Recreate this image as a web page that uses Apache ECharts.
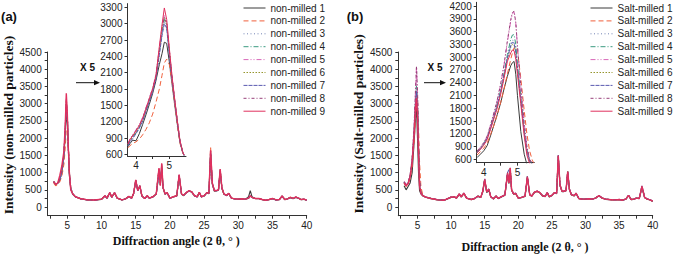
<!DOCTYPE html>
<html><head><meta charset="utf-8">
<script src="https://cdn.jsdelivr.net/npm/echarts@6/dist/echarts.min.js"></script>
<style>html,body{margin:0;padding:0;background:#fff}#c{width:675px;height:254px}</style>
</head><body><div id="c"></div>
<script>
// ---------- data ----------
const NAMES_A = ['non-milled 1','non-milled 2','non-milled 3','non-milled 4','non-milled 5','non-milled 6','non-milled 7','non-milled 8','non-milled 9'];
const NAMES_B = ['Salt-milled 1','Salt-milled 2','Salt-milled 3','Salt-milled 4','Salt-milled 5','Salt-milled 6','Salt-milled 7','Salt-milled 8','Salt-milled 9'];

const X_TICKS = [2.5,5,7.5,10,12.5,15,17.5,20,22.5,25,27.5,30,32.5,35,37.5,40];
const X_LABELS = [5,10,15,20,25,30,35,40];
const Y_TICKS = [0,250,500,750,1000,1250,1500,1750,2000,2250,2500,2750,3000,3250,3500,3750,4000,4250,4500];
const Y_LABELS = [0,500,1000,1500,2000,2500,3000,3500,4000,4500];
const INSET_X_TICKS = [4,4.5,5];
const INSET_X_LABELS = [4,5];
const INSET_A_Y_LABELS = [600,900,1200,1500,1800,2100,2400,2700,3000,3300];
const INSET_B_Y_LABELS = [600,900,1200,1500,1800,2100,2400,2700,3000,3300,3600,3900,4200];

// diffraction angles of the main patterns (both panels)
const MX = [3.0,3.3,3.6,3.9,4.2, 4.5,4.7,4.85,5.0,5.15, 5.3,5.5,5.8,6.2,7, 8,9,10,10.5,10.8,
 11.2,11.5,11.9,12.3,13, 13.5,14,14.4,14.7,15.0, 15.3,15.6,15.9,16.3,16.7, 17.0,17.5,18.0,18.4,18.6,
 18.8,19.0,19.3,19.6,20.0, 20.5,21.0,21.35,21.7,22.0, 22.4,22.8,23.2,23.6,24.0, 24.3,24.6,25.0,25.4,25.7,
 25.95,26.2,26.5,26.8,27.1, 27.35,27.6,27.9,28.3,28.6, 29.0,29.5,30.0,30.5,31.0, 31.5,31.75,32.0,32.5,33.0,
 33.5,34.0,34.5,35.0,35.5, 36.0,36.4,36.8,37.2,37.6, 38.0,38.4,38.8,39.2,39.6, 40.0];

// (a) non-milled, main patterns
const A1 = [730,650,690,780,1000, 1450,2150,2660,2450,1750, 900,520,370,290,235, 205,200,225,320,255,
 410,285,410,255,205, 235,300,255,390,760, 470,600,320,245,320, 255,290,370,1050,640,
 1180,550,370,410,255, 290,320,900,370,330, 410,470,430,320,290, 420,295,320,410,390,
 1500,660,460,470,490, 1050,540,370,330,390, 255,235,225,235,225, 300,480,300,245,245,
 215,195,215,245,205, 215,310,215,235,270, 245,280,255,215,225, 195];
const A2 = [700,620,660,740,900, 1250,1750,2280,2300,1850, 950,540,375,295,238, 208,203,228,325,258,
 415,288,415,258,208, 238,305,258,395,780, 475,610,325,248,325, 258,295,375,1100,630,
 1230,555,375,415,258, 295,325,930,375,335, 415,475,435,325,295, 425,298,325,415,395,
 1730,690,470,475,495, 1080,550,375,335,395, 258,238,228,238,228, 258,325,278,248,248,
 218,198,218,248,208, 218,315,218,238,290, 248,300,258,218,228, 198];
const A3 = [735,655,695,790,1030, 1520,2250,3050,2650,1650, 980,550,378,298,238, 208,203,228,325,258,
 415,288,415,258,208, 238,305,258,395,770, 475,610,325,248,325, 258,295,375,1000,800,
 1100,555,375,415,258, 295,325,920,375,335, 415,475,435,325,295, 425,298,325,415,395,
 1580,680,470,475,495, 1070,550,375,335,395, 258,238,228,238,228, 258,325,278,248,248,
 218,198,218,248,208, 218,315,218,238,278, 248,288,258,218,228, 198];
const A4 = [738,658,698,795,1040, 1530,2280,3080,2680,1680, 990,555,379,299,239, 209,204,229,328,259,
 418,289,418,259,209, 239,308,259,398,775, 478,615,328,249,328, 259,298,378,950,880,
 1050,558,378,418,259, 298,328,925,378,338, 418,478,438,328,298, 428,299,328,418,398,
 1560,690,475,470,498, 1060,555,378,338,398, 259,239,229,239,229, 259,328,279,249,249,
 219,199,219,249,209, 219,318,219,239,279, 249,289,259,219,229, 199];
const A5 = [742,662,702,805,1060, 1560,2350,3150,2720,1700, 1000,558,380,300,240, 210,205,230,330,260,
 420,290,420,260,210, 240,310,260,400,785, 480,620,330,250,330, 260,300,380,1110,630,
 1250,560,380,420,260, 300,330,935,380,340, 420,480,440,330,300, 430,300,330,420,400,
 1620,700,480,480,500, 1090,560,380,340,400, 260,240,230,240,230, 260,330,280,250,250,
 220,200,220,250,210, 220,320,220,240,280, 250,290,260,220,230, 200];
const A6 = [740,660,700,800,1050, 1550,2320,3100,2700,1690, 995,556,380,300,240, 210,205,230,330,260,
 418,290,418,260,210, 240,310,260,400,780, 478,618,330,250,330, 260,300,380,1090,660,
 1220,560,380,420,260, 300,330,930,380,340, 420,480,440,330,300, 430,300,330,420,400,
 1600,700,480,480,500, 1080,560,380,340,400, 260,240,230,240,230, 260,320,280,250,250,
 220,200,220,250,210, 220,320,220,240,285, 250,292,260,220,230, 200];
const A7 = [735,655,695,790,1020, 1500,2230,3000,2620,1640, 975,550,376,297,238, 208,203,228,326,258,
 414,288,414,258,208, 238,306,258,396,770, 474,610,326,248,326, 258,296,376,980,900,
 1100,556,376,414,258, 296,326,920,376,336, 414,474,434,326,296, 424,298,326,414,396,
 1550,680,470,474,494, 1060,552,376,336,396, 258,238,228,238,228, 258,326,278,248,248,
 218,198,218,248,208, 218,316,218,238,278, 248,288,258,218,228, 198];
const A8 = [742,662,702,802,1055, 1555,2340,3120,2710,1695, 998,558,380,300,240, 210,205,230,330,260,
 420,290,420,260,210, 240,310,260,400,785, 480,620,330,250,330, 260,300,380,1120,640,
 1240,560,380,420,260, 300,330,935,380,340, 420,480,440,330,300, 430,300,330,420,400,
 1630,700,480,480,500, 1090,560,380,340,400, 260,240,230,240,230, 260,330,280,250,250,
 220,200,220,250,210, 220,320,220,240,280, 250,290,260,220,230, 200];
const A9 = [740,660,700,920,1200, 1620,2400,3300,2700,1700, 1000,500,380,300,240, 210,205,230,330,260,
 420,290,420,260,210, 240,310,260,400,790, 480,620,330,250,330, 260,300,380,1130,620,
 1270,560,380,420,260, 300,330,940,380,340, 420,480,440,330,300, 430,300,330,420,400,
 1650,700,480,480,500, 1100,560,380,340,400, 260,240,230,240,230, 260,330,280,250,250,
 220,200,220,250,210, 220,320,220,240,280, 250,290,260,220,230, 200];

// (a) inset, x5 around the first reflection
const IXA = [3.76,3.82,3.9,4.0,4.1,4.2,4.3,4.4,4.5,4.6,4.7,4.78,4.85,4.92,5.0,5.08,5.16,5.24,5.32,5.4,5.44];
const AI1 = [740,800,860,850,980,1150,1330,1520,1720,1960,2250,2450,2660,2640,2300,1900,1520,1150,820,640,580];
const AI2 = [720,760,800,830,880,960,1060,1180,1340,1560,1800,2050,2280,2350,2250,1900,1500,1120,800,630,580];
const AI3 = [760,840,900,990,1090,1220,1400,1580,1760,2000,2450,2800,3050,2950,2450,1980,1580,1190,830,640,580];
const AI4 = [770,850,920,1000,1100,1230,1410,1590,1780,2020,2480,2850,3080,2980,2480,2000,1590,1200,840,645,585];
const AI5 = [800,890,960,1050,1150,1280,1460,1640,1820,2080,2550,2950,3150,3050,2520,2030,1610,1210,845,650,585];
const AI6 = [780,860,930,1010,1110,1240,1420,1600,1790,2040,2500,2900,3100,3000,2500,2010,1600,1200,840,645,585];
const AI7 = [760,830,890,980,1080,1210,1390,1570,1750,1990,2430,2780,3000,2920,2430,1970,1570,1180,830,640,580];
const AI8 = [790,880,950,1040,1140,1270,1450,1630,1810,2060,2520,2920,3120,3020,2500,2020,1600,1210,845,650,585];
const AI9 = [790,870,940,1030,1130,1260,1440,1620,1800,2050,2580,2980,3290,3080,2550,2040,1620,1220,850,650,590];

// (b) salt-milled, main patterns
const B1 = [620,500,600,700,1000, 1900,2580,2880,2000,1000, 480,380,320,285,245, 205,195,280,290,255,
 370,290,390,255,215, 245,310,275,430,760, 420,500,295,235,310, 245,290,340,930,680,
 1050,490,370,390,255, 275,310,840,350,315, 420,450,410,320,300, 410,295,330,410,390,
 1400,620,450,450,470, 980,510,350,320,390, 245,225,225,235,225, 255,295,320,255,225,
 215,205,205,215,195, 225,330,215,225,255, 245,560,270,225,205, 165];
const B2 = [690,600,660,840,1180, 1930,2600,3100,3150,2300, 1300,580,340,292,250, 210,200,288,300,260,
 380,300,400,260,220, 250,320,280,450,790, 440,515,300,240,320, 250,300,350,970,720,
 1110,500,380,400,260, 280,320,870,360,320, 430,460,420,330,310, 420,300,340,420,400,
 1470,640,460,460,480, 1020,520,360,330,400, 250,230,230,240,230, 260,300,330,260,230,
 220,210,210,220,200, 230,340,220,230,260, 250,590,280,230,210, 170];
const B3 = [720,630,690,900,1340, 2200,3050,3400,2950,1750, 700,420,335,292,252, 212,202,292,302,262,
 382,302,402,262,222, 252,322,282,452,805, 445,522,302,242,322, 252,302,352,990,720,
 1120,505,382,402,262, 282,322,885,362,322, 432,462,422,332,312, 422,302,342,422,402,
 1490,645,462,462,482, 1035,522,362,332,402, 252,232,232,242,232, 262,302,332,262,232,
 222,212,212,222,202, 232,342,222,232,262, 252,605,282,232,212, 172];
const B4 = [725,635,695,910,1360, 2250,3120,3530,3050,1800, 720,425,336,293,253, 213,203,293,303,263,
 383,303,403,263,223, 253,323,283,453,810, 446,523,303,243,323, 253,303,353,1000,760,
 1100,506,383,403,263, 283,323,890,363,323, 433,463,423,333,313, 423,303,343,423,403,
 1500,648,463,463,483, 1040,523,363,333,403, 253,233,233,243,233, 263,303,333,263,233,
 223,213,213,223,203, 233,343,223,233,263, 253,610,283,233,213, 173];
const B5 = [735,645,705,930,1400, 2350,3350,4060,3300,1950, 780,430,338,295,255, 215,205,295,305,265,
 385,305,405,265,225, 255,325,285,455,820, 448,525,305,245,325, 255,305,355,1010,710,
 1150,508,385,405,265, 285,325,895,365,325, 435,465,425,335,315, 425,305,345,425,405,
 1510,650,465,465,485, 1045,525,365,335,405, 255,235,235,245,235, 265,305,335,265,235,
 225,215,215,225,205, 235,345,225,235,265, 255,615,285,235,215, 175];
const B6 = [715,628,688,890,1320, 2160,2980,3300,2850,1700, 680,415,334,291,251, 211,201,291,301,261,
 381,301,401,261,221, 251,321,281,451,800, 442,521,301,241,321, 251,301,351,985,705,
 1135,502,381,401,261, 281,321,882,361,321, 431,461,421,331,311, 421,301,341,421,401,
 1485,642,461,461,481, 1032,521,361,331,401, 251,231,231,241,231, 261,301,331,261,231,
 221,211,211,221,201, 231,341,221,231,261, 251,602,281,231,211, 171];
const B7 = [718,630,690,895,1330, 2180,3000,3350,2900,1720, 690,418,334,291,251, 211,201,291,301,261,
 381,301,401,261,221, 251,321,281,451,800, 442,521,301,241,321, 251,301,351,1000,1080,
 1050,502,381,401,261, 281,321,882,361,321, 431,461,421,331,311, 421,301,341,421,401,
 1470,642,461,461,481, 1025,521,361,331,401, 251,231,231,241,231, 261,301,331,261,231,
 221,211,211,221,201, 231,341,221,231,261, 251,600,281,231,211, 171];
const B8 = [738,648,708,935,1410, 2370,3380,4080,3320,1960, 790,432,338,295,255, 215,205,295,305,265,
 385,305,405,265,225, 255,325,285,455,820, 448,525,305,245,325, 255,305,355,1010,715,
 1150,508,385,405,265, 285,325,895,365,325, 435,465,425,335,315, 425,305,345,425,405,
 1515,650,465,465,485, 1045,525,365,335,405, 255,235,235,245,235, 265,305,335,265,235,
 225,215,215,225,205, 235,345,225,235,265, 255,615,285,235,215, 175];
const B9 = [700,620,680,880,1300, 2120,2900,3170,2600,1550, 620,400,330,290,250, 210,200,290,300,260,
 380,300,400,260,220, 250,320,280,450,800, 440,520,300,240,320, 250,300,350,980,700,
 1130,500,380,400,260, 280,320,880,360,320, 430,460,420,330,310, 420,300,340,420,400,
 1480,640,460,460,480, 1030,520,360,330,400, 250,230,230,240,230, 260,300,330,260,230,
 220,210,210,220,200, 230,340,220,230,260, 250,600,280,230,210, 170];

// (b) inset
const IXB = [3.8,3.9,4.0,4.1,4.2,4.3,4.4,4.5,4.6,4.7,4.8,4.85,4.9,4.95,5.0,5.1,5.2,5.28,5.36,5.44,5.48];
const BI1 = [640,720,800,920,1150,1400,1650,1920,2250,2550,2800,2870,2900,2600,2100,1250,720,480,440,420,420];
const BI2 = [700,780,860,980,1180,1400,1650,1930,2250,2600,2950,3100,3220,3260,3150,2500,1750,1200,800,580,520];
const BI3 = [760,850,960,1100,1340,1600,1880,2200,2580,3000,3320,3400,3380,3150,2750,2000,1250,800,560,480,460];
const BI4 = [770,860,970,1110,1360,1620,1900,2230,2620,3060,3420,3520,3530,3300,2850,2050,1300,830,570,480,460];
const BI5 = [790,880,990,1140,1400,1680,1980,2350,2800,3350,3850,4020,4060,3800,3250,2300,1450,900,600,500,480];
const BI6 = [755,845,955,1090,1320,1580,1860,2170,2540,2950,3230,3300,3290,3080,2700,1980,1230,790,555,480,460];
const BI7 = [758,848,958,1095,1330,1590,1870,2180,2560,2980,3270,3350,3330,3120,2720,1990,1240,795,558,480,460];
const BI8 = [795,885,995,1145,1410,1690,2000,2370,2820,3380,3880,4050,4080,3820,3270,2320,1460,905,605,500,480];
const BI9 = [750,830,930,1060,1300,1550,1800,2120,2500,2900,3100,3170,3150,2950,2600,1900,1150,700,500,460,450];

// ---------- styles ----------
const COLORS = ['#3a3a3a','#f0603c','#7484b4','#3a9a80','#d868b8','#96962e','#5a5ab0','#98407a','#e0305e'];
const DASHES = ['solid',[5,3],[1,2.5],[5,2,1,2],[5,2,1,2,1,2],[1.5,1.5],[4,1],[3,2,1,2],'solid'];
const SANS = '"Liberation Sans", Arial, Helvetica, sans-serif';
const SERIF = '"Liberation Serif", "Times New Roman", Times, serif';

const mainA = [A1,A2,A3,A4,A5,A6,A7,A8,A9];
const insetA = [AI1,AI2,AI3,AI4,AI5,AI6,AI7,AI8,AI9];
const mainB = [B1,B2,B3,B4,B5,B6,B7,B8,B9];
const insetB = [BI1,BI2,BI3,BI4,BI5,BI6,BI7,BI8,BI9];

function zip(xs, ys){ return xs.map((x,i)=>[x, ys[i]]); }

function axisCommon(labelVals, tickVals, margin){
  return {
    axisLine:{show:true, onZero:false, lineStyle:{color:'#333', width:1}},
    axisTick:{show:true, inside:false, length:3, customValues:tickVals, lineStyle:{color:'#333', width:1}},
    axisLabel:{customValues:labelVals, margin:margin, fontSize:10, color:'#222', fontFamily:SANS, formatter:(v)=>String(v)},
    splitLine:{show:false}
  };
}
function xAx(gi, min, max, labels, ticks, margin){
  return Object.assign({type:'value', gridIndex:gi, min:min, max:max, position:'bottom'}, axisCommon(labels, ticks, margin));
}
function yAx(gi, min, max, labels, ticks, margin){
  return Object.assign({type:'value', gridIndex:gi, min:min, max:max, position:'left'}, axisCommon(labels, ticks, margin));
}

const series = [];
function addSeries(names, sets, xs, axisIndex, isMain){
  sets.forEach((ys, i) => {
    const w = isMain ? (i === 8 ? 1.4 : 1.1) : 1;
    series.push({
      type:'line', name:names[i], xAxisIndex:axisIndex, yAxisIndex:axisIndex,
      data: zip(xs, ys), symbol:'none', showSymbol:false, smooth:false, clip:true,
      lineStyle:{color:COLORS[i], width:w, type:DASHES[i]}, itemStyle:{color:COLORS[i]},
      emphasis:{disabled:true}, silent:true, animation:false
    });
  });
}
addSeries(NAMES_A, mainA, MX, 0, true);
addSeries(NAMES_A, insetA, IXA, 1, false);
addSeries(NAMES_B, mainB, MX, 2, true);
addSeries(NAMES_B, insetB, IXB, 3, false);

function legend(left, names){
  return {orient:'vertical', left:left, top:3, padding:0, itemWidth:22, itemHeight:10, itemGap:2.9,
    data:names, selectedMode:false,
    itemStyle:{opacity:0, borderWidth:0},
    lineStyle:{width:1},
    textStyle:{fontSize:10, fontFamily:SANS, color:'#222', lineHeight:10, padding:[0,0,0,0]}};
}

function label(x, y, txt, font, rot){
  return {type:'text', x:x, y:y, rotation:rot||0, silent:true,
    style:{text:txt, font:font, fill:'#111', align:'center', verticalAlign:'middle'}};
}
function arrow(x1, x2, y){
  return [
    {type:'line', silent:true, shape:{x1:x1, y1:y, x2:x2-4, y2:y}, style:{stroke:'#111', lineWidth:1}},
    {type:'polygon', silent:true, shape:{points:[[x2-6,y-2.6],[x2,y],[x2-6,y+2.6]]}, style:{fill:'#111'}}
  ];
}

const option = {
  animation:false,
  backgroundColor:'#fff',
  grid:[
    {left:47.7, top:52, width:259, height:163.7},
    {left:127.5, top:3.6, width:58.5, height:152.4},
    {left:398.3, top:52, width:254.4, height:163.7},
    {left:476.7, top:2.3, width:57.6, height:160.4}
  ],
  xAxis:[
    xAx(0, 2.13, 40, X_LABELS, X_TICKS, 5),
    xAx(1, 3.745, 5.5, INSET_X_LABELS, INSET_X_TICKS, 4),
    xAx(2, 2.14, 40, X_LABELS, X_TICKS, 5),
    xAx(3, 3.79, 5.5, INSET_X_LABELS, INSET_X_TICKS, 5)
  ],
  yAxis:[
    yAx(0, -250, 4500, Y_LABELS, Y_TICKS, 6),
    yAx(1, 570, 3370, INSET_A_Y_LABELS, INSET_A_Y_LABELS, 5),
    yAx(2, -250, 4500, Y_LABELS, Y_TICKS, 6),
    yAx(3, 520, 4290, INSET_B_Y_LABELS, INSET_B_Y_LABELS, 5)
  ],
  legend:[legend(243, NAMES_A), legend(590, NAMES_B)],
  series:series,
  graphic:[
    label(9, 16, '(a)', 'bold 13px ' + SANS),
    label(355, 16, '(b)', 'bold 13px ' + SANS),
    label(87.5, 67, 'X 5', 'bold 10px ' + SANS),
    label(435, 67, 'X 5', 'bold 10px ' + SANS),
    ...arrow(76, 100, 82.7),
    ...arrow(424, 446, 82.7),
    label(8.5, 125, 'Intensity (non-milled particles)', 'bold 13.5px ' + SERIF, Math.PI/2),
    label(358, 124, 'Intensity (Salt-milled particles)', 'bold 13.5px ' + SERIF, Math.PI/2),
    label(176.3, 241, 'Diffraction angle (2 θ, ° )', 'bold 12px ' + SERIF),
    label(525, 246.5, 'Diffraction angle (2 θ, ° )', 'bold 12px ' + SERIF)
  ]
};

const chart = echarts.init(document.getElementById('c'), null, {renderer:'svg', width:675, height:254});
chart.setOption(option);
</script></body></html>
